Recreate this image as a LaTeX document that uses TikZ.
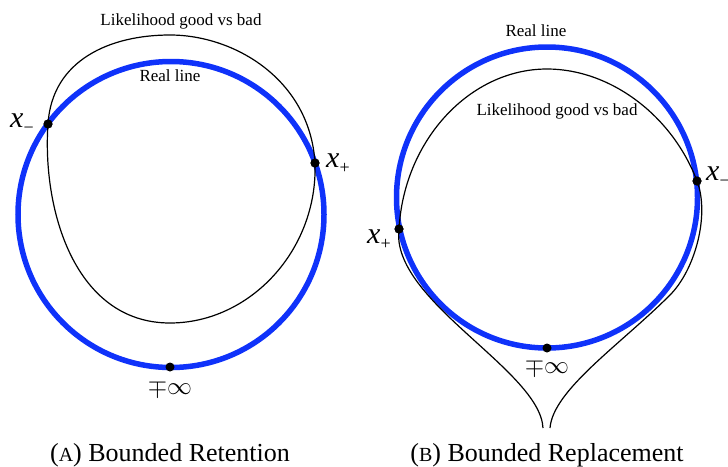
\documentclass[tikz,border=0pt]{standalone}
\usepackage{fontspec}
\setmainfont{Liberation Serif}
\definecolor{realblue}{RGB}{15,50,250}
\newcommand{\subsym}[1]{\raisebox{-6pt}{\fontsize{18}{18}\selectfont #1}}
\begin{document}
\begin{tikzpicture}[x=1pt,y=-1pt,
  realcirc/.style={draw=realblue,line width=5.5pt},
  likecurve/.style={draw=black,line width=1.2pt},
  dotnode/.style={circle,fill=black,inner sep=0pt,minimum size=9pt},
  lbl/.style={font=\fontsize{17}{17}\selectfont,inner sep=0pt},
  xlbl/.style={font=\fontsize{30}{30}\selectfont,inner sep=0pt,anchor=base west},
  inflbl/.style={font=\fontsize{30}{30}\selectfont,inner sep=0pt},
  caption/.style={font=\fontsize{26}{26}\selectfont,inner sep=0pt,anchor=base}]
\useasboundingbox (0,0) rectangle (728,466);
% ---------- (A) ----------
\node[circle,minimum size=306pt,inner sep=0pt,realcirc] (bcA) at (171,214.5) {};
\coordinate (topA) at (170,35);
\coordinate (botA) at (170,323);
\node[dotnode] (xmA) at (48,124) {};
\node[dotnode] (xpA) at (315,163) {};
\node[dotnode] (infA) at (170,367) {};
\draw[likecurve] (xmA.center) .. controls (52,60) and (110,35) .. (topA)
  .. controls (235,35) and (310,80) .. (xpA.center)
  .. controls (318,250) and (250,323) .. (botA)
  .. controls (75,323) and (42,210) .. (xmA.center) -- cycle;
\node[dotnode] at (xmA) {};
\node[dotnode] at (xpA) {};
\node[lbl] (likeA) at (181,21) {Likelihood good vs bad};
\node[lbl] (realA) at (170,76) {Real line};
\node[xlbl] (xmlA) at (10,127) {\textit{x}\subsym{−}};
\node[xlbl] (xplA) at (326,167) {\textit{x}\subsym{+}};
\node[inflbl] (inflA) at (170,388) {$\mp\infty$};
\node[caption] (capA) at (170,461) {({\fontsize{20}{20}\selectfont A}) Bounded Retention};
% ---------- (B) ----------
\node[circle,minimum size=301pt,inner sep=0pt,realcirc] (bcB) at (547,197.5) {};
\coordinate (endLB) at (543,428);
\coordinate (endRB) at (550,428);
\coordinate (topB) at (547,69);
\coordinate (midB) at (670,295);
\node[dotnode] (xpB) at (399,229) {};
\node[dotnode] (xmB) at (697,181) {};
\node[dotnode] (infB) at (547,348) {};
\draw[likecurve] (endLB) .. controls (540,370) and (390,300) .. (xpB.center)
  .. controls (404,140) and (470,69) .. (topB)
  .. controls (610,69) and (672,115) .. (xmB.center)
  .. controls (710,215) and (695,270) .. (midB)
  .. controls (620,345) and (553,390) .. (endRB);
\node[dotnode] at (xpB) {};
\node[dotnode] at (xmB) {};
\node[lbl] (realB) at (536,31) {Real line};
\node[lbl] (likeB) at (557,111) {Likelihood good vs bad};
\node[xlbl] (xmlB) at (706,180) {\textit{x}\subsym{−}};
\node[xlbl] (xplB) at (367,243) {\textit{x}\subsym{+}};
\node[inflbl] (inflB) at (547,367) {$\mp\infty$};
\node[caption] (capB) at (547,461) {({\fontsize{20}{20}\selectfont B}) Bounded Replacement};
\end{tikzpicture}
\end{document}
